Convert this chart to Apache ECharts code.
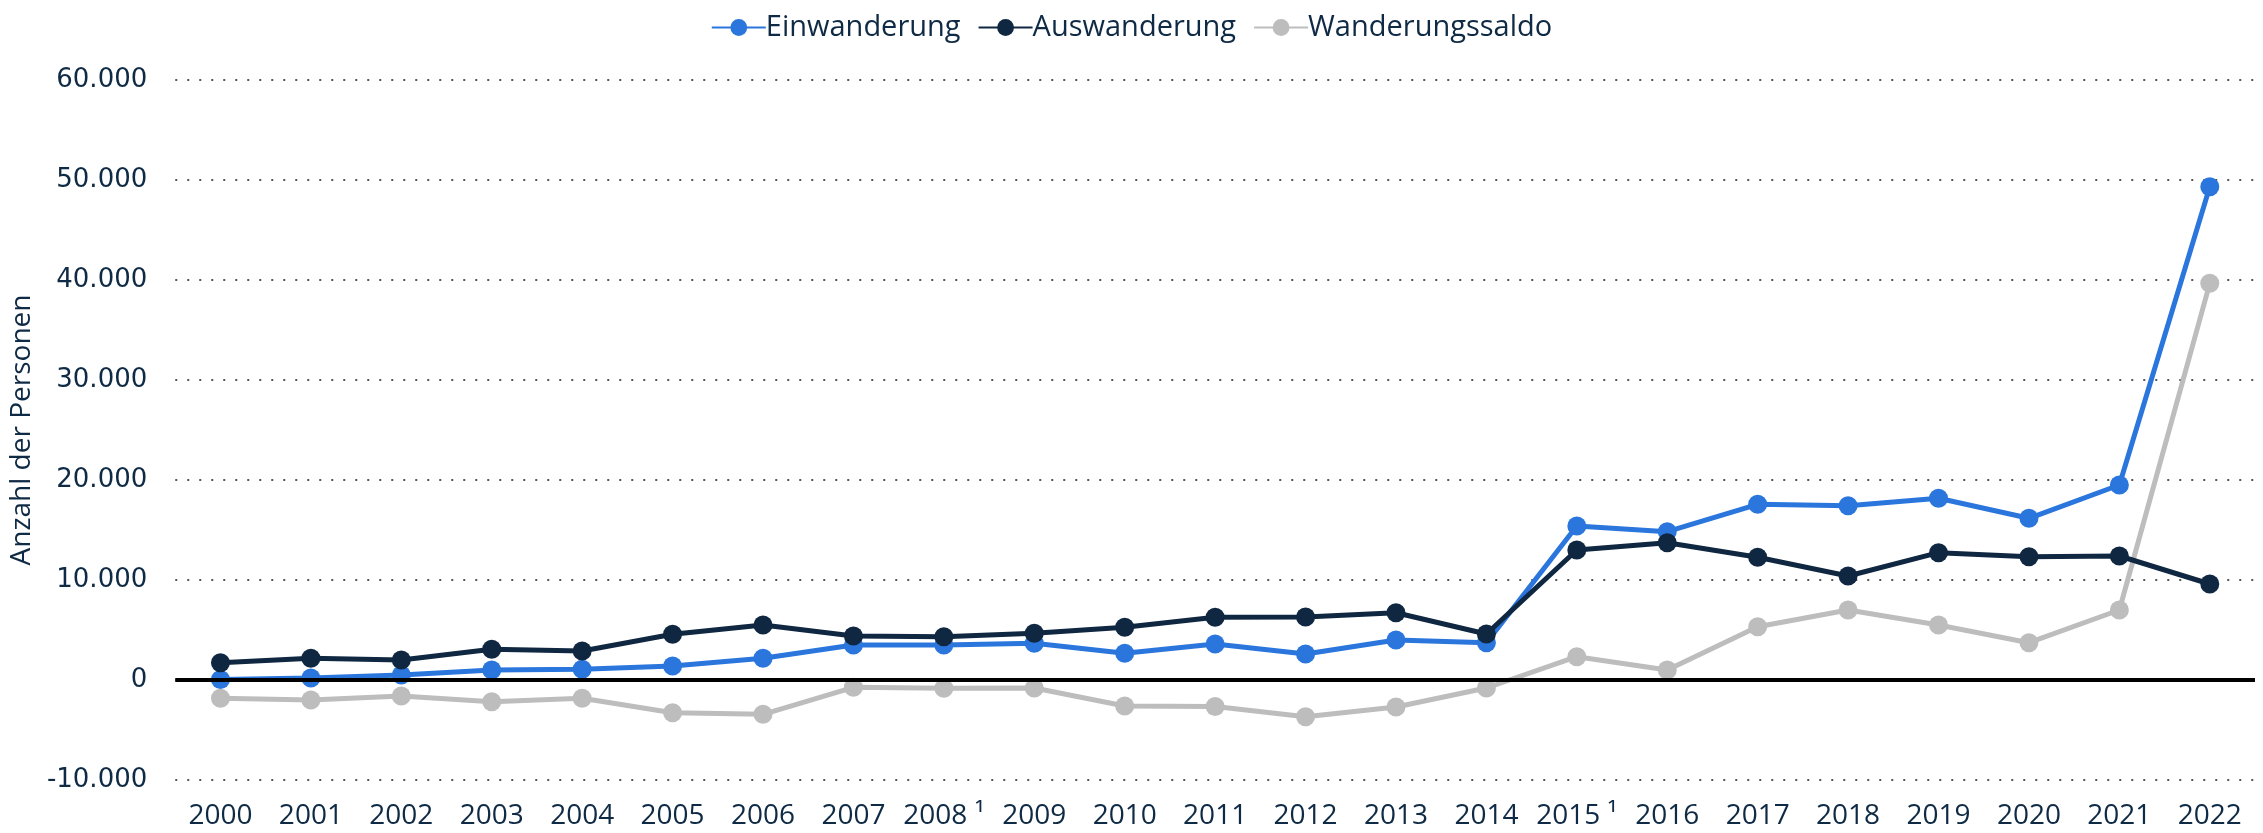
<!DOCTYPE html>
<html>
<head>
<meta charset="utf-8">
<script src="https://cdn.jsdelivr.net/npm/echarts@6/dist/echarts.min.js"></script>
<style>html,body{margin:0;padding:0;background:#fff}#c{width:2263px;height:833px}</style>
</head>
<body>
<div id="c"></div>
<script>
const categories = ['2000','2001','2002','2003','2004','2005','2006','2007','2008 ¹','2009','2010','2011','2012','2013','2014','2015 ¹','2016','2017','2018','2019','2020','2021','2022'];
const einwanderung = [50,200,500,1000,1070,1400,2170,3500,3500,3670,2670,3600,2600,4000,3730,15400,14830,17570,17430,18170,16170,19500,49330];
const auswanderung = [1730,2170,2000,3070,2900,4570,5500,4400,4330,4670,5270,6270,6300,6730,4600,13000,13730,12270,10400,12730,12330,12400,9600];
const saldo = [-1830,-2000,-1600,-2170,-1830,-3270,-3430,-730,-830,-800,-2600,-2650,-3670,-2700,-800,2330,1000,5330,7000,5500,3730,7000,39670];
const yTicks = {min:-10000, max:60000, interval:10000};

const navy = '#0f2a44';
const chart = echarts.init(document.getElementById('c'));
function fmt(v){ return String(Math.abs(v)).replace(/\B(?=(\d{3})+(?!\d))/g,'.').replace(/^/, v<0?'-':''); }
function mk(name, data, color, z){
  return {name, type:'line', data, z, color,
    symbol:'circle', symbolSize:19, showSymbol:true,
    lineStyle:{width:5, color}, itemStyle:{color},
    emphasis:{disabled:true}, animation:false};
}
chart.setOption({
  animation:false,
  grid:{left:175, right:8, top:80, bottom:53, containLabel:false},
  legend:{top:8, left:'center', itemWidth:54, itemHeight:21, itemGap:17,
    data:['Einwanderung','Auswanderung','Wanderungssaldo'],
    textStyle:{fontFamily:'Open Sans', fontSize:29, color:navy, padding:[0,0,0,-5]}},
  xAxis:{type:'category', data:categories, boundaryGap:true,
    axisLine:{show:false}, axisTick:{show:false},
    axisLabel:{fontFamily:'Open Sans', fontSize:28, color:navy, margin:22, interval:0}},
  yAxis:{type:'value', min:yTicks.min, max:yTicks.max, interval:yTicks.interval,
    name:'Anzahl der Personen', nameLocation:'middle', nameGap:138,
    nameTextStyle:{fontFamily:'Open Sans', fontSize:28, color:navy},
    axisLine:{show:false}, axisTick:{show:false},
    axisLabel:{fontFamily:'DejaVu Sans', fontSize:26, color:navy, margin:28, formatter:fmt},
    splitLine:{lineStyle:{type:[2,10], width:2, color:'#555'}}},
  series:[
    {type:'line', data:[], z:1, silent:true,
      markLine:{silent:true, symbol:'none', label:{show:false},
        lineStyle:{color:'#000', width:4, type:'solid'},
        data:[{yAxis:0}], animation:false}},
    mk('Wanderungssaldo', saldo, '#bdbdbd', 2),
    mk('Einwanderung', einwanderung, '#2a76dd', 3),
    mk('Auswanderung', auswanderung, '#0f2740', 4)
  ]
});
</script>
</body>
</html>
